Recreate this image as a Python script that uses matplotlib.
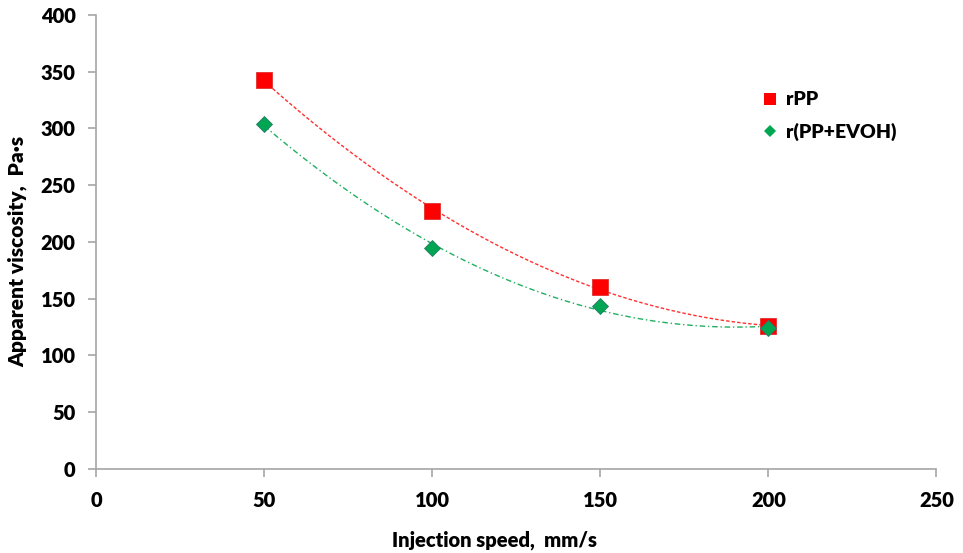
import numpy as np
import matplotlib
matplotlib.use("Agg")
import matplotlib.pyplot as plt
from matplotlib.lines import Line2D

plt.rcParams["font.family"] = ["Lato", "DejaVu Sans"]
plt.rcParams["font.weight"] = "heavy"

# data
speed = [50, 100, 150, 200]
visc_rpp = [342.5, 227, 160.5, 125.5]
visc_blend = [303.5, 194.5, 143.5, 124.5]

x_ticks = [0, 50, 100, 150, 200, 250]
y_ticks = [0, 50, 100, 150, 200, 250, 300, 350, 400]

red = "#ff0000"
green = "#00a651"
axis_grey = "#a6a6a6"

fig = plt.figure(figsize=(9.63, 5.53), dpi=100)
ax = fig.add_axes([0.1, 0.152, 0.8723, 0.821])

# polynomial trend lines (order 2, as in a spreadsheet trendline)
xs = np.linspace(min(speed), max(speed), 200)
fit_rpp = np.polyval(np.polyfit(speed, visc_rpp, 2), xs)
fit_blend = np.polyval(np.polyfit(speed, visc_blend, 2), xs)
ax.plot(xs, fit_rpp, color="#ff3030", lw=1.0, ls=(0, (2.5, 1.5)), zorder=2)
ax.plot(xs, fit_blend, color="#20b060", lw=1.0, ls=(0, (4, 2, 1, 2)), zorder=2)

ax.plot(speed, visc_rpp, ls="none", marker="s", ms=11, color=red,
        markeredgecolor="#e03030", markeredgewidth=0.6, zorder=3)
ax.plot(speed, visc_blend, ls="none", marker="D", ms=7.8, color=green,
        markeredgecolor="#2a7a6a", markeredgewidth=0.6, zorder=4)

ax.set_xlim(0, 250)
ax.set_ylim(0, 400)
ax.set_xticks(x_ticks)
ax.set_yticks(y_ticks)

for side in ("top", "right"):
    ax.spines[side].set_visible(False)
for side in ("left", "bottom"):
    ax.spines[side].set_color(axis_grey)
    ax.spines[side].set_linewidth(1.2)
ax.tick_params(direction="out", length=6, width=1.2, color=axis_grey,
               labelsize=14.5)
for lab in ax.get_xticklabels() + ax.get_yticklabels():
    lab.set_fontweight("heavy")
ax.tick_params(axis="x", pad=10)
ax.tick_params(axis="y", pad=9)

ax.set_xlabel("Injection speed,  mm/s", fontsize=14.5, fontweight="heavy")
ax.set_ylabel("Apparent viscosity,  Pa·s", fontsize=15, fontweight="heavy")
ax.xaxis.set_label_coords(0.474, -0.135)
ax.yaxis.set_label_coords(-0.082, 0.48)

handles = [
    Line2D([], [], ls="none", marker="s", ms=9, color=red, markeredgewidth=0),
    Line2D([], [], ls="none", marker="D", ms=6.5, color=green, markeredgewidth=0),
]
ax.legend(handles, ["rPP", "r(PP+EVOH)"], loc="upper left",
          bbox_to_anchor=(0.772, 0.87), frameon=False,
          handlelength=0.8, handletextpad=0.4, labelspacing=0.75,
          prop={"weight": "heavy", "size": 14})

fig.savefig("out.png", dpi=100)
